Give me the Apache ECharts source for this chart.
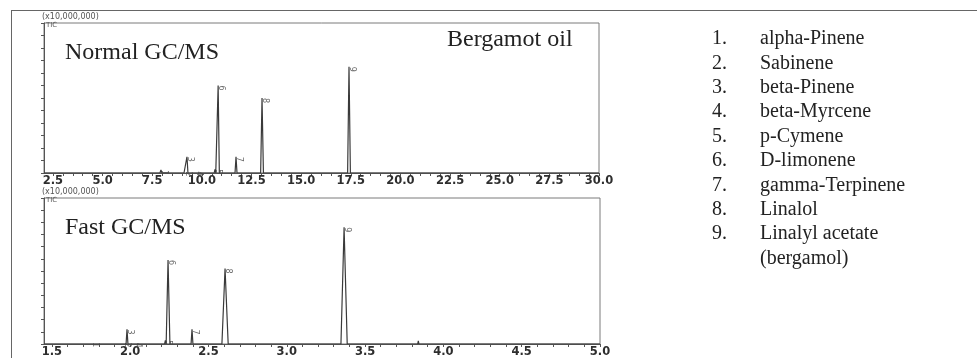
<!DOCTYPE html>
<html>
<head>
<meta charset="utf-8">
<script src="https://cdn.jsdelivr.net/npm/echarts@6/dist/echarts.min.js"></script>
<style>
  html, body { margin: 0; padding: 0; background: #fff; }
  #chart { width: 977px; height: 358px; }
</style>
</head>
<body>
<div id="chart"></div>
<script>
// Peak tables (retention time in min, height in units of 10,000,000 counts, half base width in min)
const peakNumbers = ['1', '2', '3', '4', '5', '6', '7', '8', '9'];
const compoundNames = ['alpha-Pinene', 'Sabinene', 'beta-Pinene', 'beta-Myrcene', 'p-Cymene',
  'D-limonene', 'gamma-Terpinene', 'Linalol', 'Linalyl acetate'];
const compoundNote = '(bergamol)';

const normalTimes = [7.94, 9.15, 9.25, 9.70, 10.66, 10.82, 11.72, 13.03, 17.41];
const normalHeights = [0.025, 0.012, 0.13, 0.015, 0.03, 0.70, 0.13, 0.60, 0.85];
const normalHalfWidths = [0.05, 0.05, 0.05, 0.05, 0.04, 0.06, 0.05, 0.07, 0.07];

const fastTimes = [1.757, 1.96, 1.98, 2.03, 2.225, 2.242, 2.395, 2.606, 3.366];
const fastHeights = [0.015, 0.012, 0.12, 0.01, 0.03, 0.69, 0.12, 0.62, 0.96];
const fastHalfWidths = [0.008, 0.006, 0.006, 0.006, 0.005, 0.012, 0.006, 0.02, 0.02];

// small unlabeled baseline bumps in the fast run
const fastMinorTimes = [3.07, 3.12, 3.25, 3.84, 3.93, 4.15, 4.18, 4.49];
const fastMinorHeights = [0.008, 0.01, 0.006, 0.025, 0.008, 0.012, 0.01, 0.012];
const fastMinorHalfWidths = [0.005, 0.005, 0.005, 0.004, 0.005, 0.005, 0.005, 0.006];

const normalTickLabels = [2.5, 5.0, 7.5, 10.0, 12.5, 15.0, 17.5, 20.0, 22.5, 25.0, 27.5, 30.0];
const fastTickLabels = [1.5, 2.0, 2.5, 3.0, 3.5, 4.0, 4.5, 5.0];

const normalRange = [2.05, 30.0];
const fastRange = [1.45, 5.0];

// Build a trace from the peak table: flat baseline, each peak as start/apex/end vertices
function buildTrace(range, times, heights, halfWidths) {
  const peaks = times.map((t, i) => ({ t, h: heights[i], w: halfWidths[i] }))
    .sort((a, b) => a.t - b.t);
  const pts = [[range[0], 0]];
  peaks.forEach(p => {
    pts.push([p.t - p.w, 0]);
    pts.push([p.t, p.h]);
    pts.push([p.t + p.w, 0]);
  });
  pts.push([range[1], 0]);
  return pts;
}

function stepValues(from, to, step) {
  const out = [];
  const n = Math.round((to - from) / step);
  for (let i = 0; i <= n; i++) out.push(+(from + i * step).toFixed(3));
  return out;
}

const normalTrace = buildTrace(normalRange, normalTimes, normalHeights, normalHalfWidths);
const fastTrace = buildTrace(fastRange,
  fastTimes.concat(fastMinorTimes),
  fastHeights.concat(fastMinorHeights),
  fastHalfWidths.concat(fastMinorHalfWidths));

const axisGray = '#7a7a7a';
const traceColor = '#3a3a3a';
const serif = '"Liberation Serif", "DejaVu Serif", serif';

function xAxis(gridIndex, range, labels, minorStep, digits) {
  return {
    type: 'value', gridIndex, min: range[0], max: range[1],
    axisLine: { show: true, onZero: false, lineStyle: { color: '#555', width: 1 } },
    axisTick: { show: true, inside: false, length: 3, lineStyle: { color: '#555' },
      customValues: stepValues(labels[0], labels[labels.length - 1], minorStep) },
    axisLabel: {
      customValues: labels, margin: 2,
      formatter: v => v.toFixed(digits),
      fontFamily: '"DejaVu Sans", sans-serif', fontWeight: 'bold', fontSize: 11.5,
      color: '#2e2e2e'
    },
    splitLine: { show: false }
  };
}

function yAxis(gridIndex) {
  return {
    type: 'value', gridIndex, min: 0, max: 1.2, interval: 0.1,
    axisLine: { show: true, lineStyle: { color: '#555', width: 1 } },
    axisTick: { show: true, inside: false, length: 3, lineStyle: { color: '#555' } },
    axisLabel: { show: false },
    splitLine: { show: false }
  };
}

function peakLabels(times, heights, xi) {
  return {
    type: 'scatter', xAxisIndex: xi, yAxisIndex: xi, symbolSize: 0, silent: true,
    data: times.map((t, i) => ({ value: [t, heights[i]], name: peakNumbers[i] })),
    label: {
      show: true, formatter: '{b}', position: 'right', rotate: -90, distance: 3,
      fontSize: 8, color: '#444', fontFamily: '"DejaVu Sans", sans-serif'
    },
    z: 5
  };
}

const legendX = 712, nameX = 760, legendTop = 49, legendStep = 24.4;
const graphics = [
  // outer frame
  { type: 'line', shape: { x1: 11, y1: 10.5, x2: 977, y2: 10.5 }, style: { stroke: '#666', lineWidth: 1 } },
  { type: 'line', shape: { x1: 11.5, y1: 10, x2: 11.5, y2: 358 }, style: { stroke: '#666', lineWidth: 1 } },
  // panel captions
  { type: 'text', x: 65, y: 65, style: { text: 'Normal GC/MS', font: '24px ' + serif, fill: '#222', verticalAlign: 'bottom' } },
  { type: 'text', x: 447, y: 52, style: { text: 'Bergamot oil', font: '24px ' + serif, fill: '#222', verticalAlign: 'bottom' } },
  { type: 'text', x: 65, y: 240, style: { text: 'Fast GC/MS', font: '24px ' + serif, fill: '#222', verticalAlign: 'bottom' } },
  // intensity scale notes
  { type: 'text', x: 42, y: 21, style: { text: '(x10,000,000)', font: '8px "DejaVu Sans", sans-serif', fill: '#555', verticalAlign: 'bottom' } },
  { type: 'text', x: 46, y: 29, style: { text: 'TIC', font: '7px "DejaVu Sans", sans-serif', fill: '#555', verticalAlign: 'bottom' } },
  { type: 'text', x: 42, y: 196, style: { text: '(x10,000,000)', font: '8px "DejaVu Sans", sans-serif', fill: '#555', verticalAlign: 'bottom' } },
  { type: 'text', x: 46, y: 204, style: { text: 'TIC', font: '7px "DejaVu Sans", sans-serif', fill: '#555', verticalAlign: 'bottom' } }
];
peakNumbers.forEach((n, i) => {
  const y = legendTop + i * legendStep;
  graphics.push({ type: 'text', x: legendX, y, style: { text: n + '.', font: '20px ' + serif, fill: '#222', verticalAlign: 'bottom' } });
  graphics.push({ type: 'text', x: nameX, y, style: { text: compoundNames[i], font: '20px ' + serif, fill: '#222', verticalAlign: 'bottom' } });
});
graphics.push({ type: 'text', x: nameX, y: legendTop + 9 * legendStep,
  style: { text: compoundNote, font: '20px ' + serif, fill: '#222', verticalAlign: 'bottom' } });

const option = {
  animation: false,
  backgroundColor: '#fff',
  grid: [
    { left: 44, top: 23, width: 555, height: 150, show: true, borderColor: axisGray, borderWidth: 1, backgroundColor: 'transparent' },
    { left: 44, top: 198, width: 556, height: 150, show: true, borderColor: axisGray, borderWidth: 1, backgroundColor: 'transparent' }
  ],
  xAxis: [
    xAxis(0, normalRange, normalTickLabels, 0.5, 1),
    xAxis(1, fastRange, fastTickLabels, 0.1, 1)
  ],
  yAxis: [yAxis(0), yAxis(1)],
  series: [
    { type: 'line', xAxisIndex: 0, yAxisIndex: 0, data: normalTrace, showSymbol: false, silent: true,
      lineStyle: { color: traceColor, width: 1.2 } },
    { type: 'line', xAxisIndex: 1, yAxisIndex: 1, data: fastTrace, showSymbol: false, silent: true,
      lineStyle: { color: traceColor, width: 1.2 } },
    peakLabels(normalTimes, normalHeights, 0),
    peakLabels(fastTimes, fastHeights, 1)
  ],
  graphic: graphics
};

const chart = echarts.init(document.getElementById('chart'), null, { renderer: 'canvas' });
chart.setOption(option);
</script>
</body>
</html>
